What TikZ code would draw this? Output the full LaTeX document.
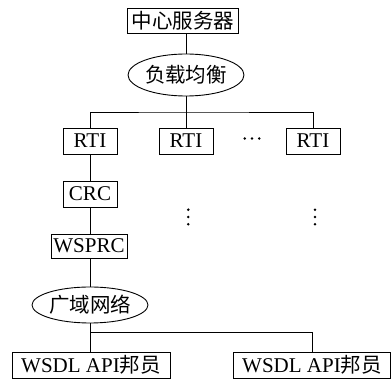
\documentclass[tikz,border=0pt]{standalone}
\usepackage{fontspec}
\setmainfont{Liberation Serif}
\newfontfamily\cjk{Noto Sans CJK SC}
\usetikzlibrary{shapes.geometric}
\begin{document}
\begin{tikzpicture}[x=1pt,y=1pt,
  line width=0.9pt,
  font=\fontsize{21}{22}\selectfont,
  cjkfont/.style={font=\fontsize{20.5}{22}\selectfont\cjk},
  boxnode/.style={draw,rectangle,inner sep=0pt,minimum height=26pt},
  ellnode/.style={draw,ellipse,inner sep=0pt},
  dotmark/.style={fill=black,draw=none}]
\useasboundingbox (0,0) rectangle (392,-379);
\node[boxnode,cjkfont,minimum width=111pt,minimum height=25pt] (top) at (183,-20.5) {中心服务器};
\node[ellnode,cjkfont,minimum width=113pt,minimum height=42pt] (lb) at (186,-75) {负载均衡};
\node[boxnode,minimum width=54pt] (r1) at (90,-141) {RTI};
\node[boxnode,minimum width=54pt] (r2) at (186,-141) {RTI};
\node[boxnode,minimum width=54pt] (r3) at (313,-141) {RTI};
\coordinate (hd) at (252,-138.5);
\node[boxnode,minimum width=54pt] (crc) at (90,-194) {CRC};
\coordinate (vd1) at (188.3,-217);
\coordinate (vd2) at (315,-217);
\node[boxnode,minimum width=76pt,minimum height=24pt] (ws) at (89,-246) {WSPRC};
\node[ellnode,cjkfont,minimum width=114pt,minimum height=36pt] (wan) at (90,-305) {广域网络};
\node[boxnode,minimum width=158pt] (w1) at (91,-365) {WSDL API{\fontsize{20.5}{22}\selectfont\cjk 邦员}};
\node[boxnode,minimum width=157pt] (w2) at (312,-365) {WSDL API{\fontsize{20.5}{22}\selectfont\cjk 邦员}};
\coordinate (b1) at (186,-112);
\coordinate (b2) at (90,-332);
\foreach \d in {-7.3,0,7.3} {
  \fill[dotmark] ([xshift=\d pt]hd) circle (1.4pt);
  \fill[dotmark] ([yshift=\d pt]vd1) circle (1.4pt);
  \fill[dotmark] ([yshift=\d pt]vd2) circle (1.4pt);
}
\draw (top.south -| lb.north) -- (lb.north);
\draw (lb.south) -- (r2.north);
\draw (r1.north) |- (b1) -| (r3.north);
\draw (r1.south) -- (crc.north);
\draw (ws.north -| crc.south) -- (crc.south);
\draw (ws.south -| wan.north) -- (wan.north);
\draw (wan.south) -- (w1.north -| wan.south);
\draw (b2) -| (w2.north);
\end{tikzpicture}
\end{document}
